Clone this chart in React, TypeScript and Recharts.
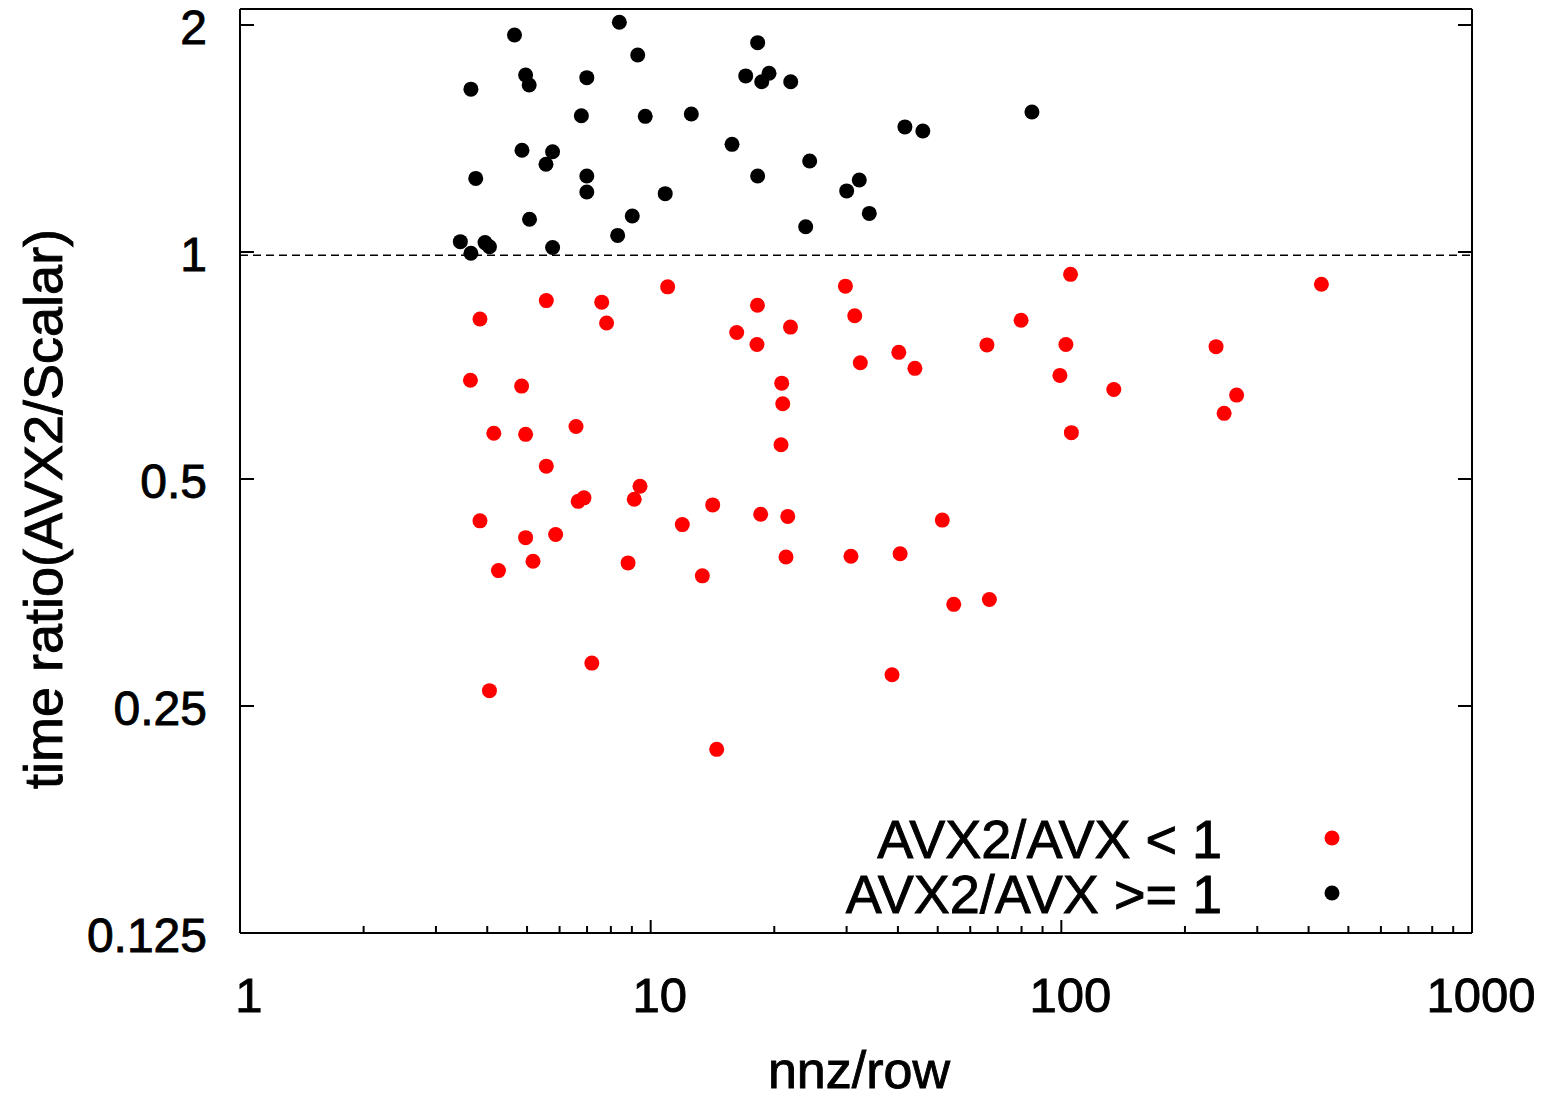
import { ScatterChart, Scatter, XAxis, YAxis, ReferenceLine, Legend, Label } from "recharts";

const FONT = "'Liberation Sans', Arial, Helvetica, sans-serif";

// axis ticks
const xMajorTicks = [1, 10, 100, 1000];
const xAllTicks = [
  1, 2, 3, 4, 5, 6, 7, 8, 9,
  10, 20, 30, 40, 50, 60, 70, 80, 90,
  100, 200, 300, 400, 500, 600, 700, 800, 900, 1000,
];
const yTicks = [0.125, 0.25, 0.5, 1, 2];
const yTickLabels = ["0.125", "0.25", "0.5", "1", "2"];
const thresholdY = 0.99;

// AVX2/AVX < 1 (red)
const belowNnz = [
  11.0, 29.8, 5.57, 7.6, 18.2, 3.84, 7.81, 31.4, 16.2, 21.9,
  18.15, 32.4, 40.2, 44.0, 3.64, 4.85, 20.85, 20.97, 4.15, 4.96,
  6.58, 20.77, 5.57, 9.42, 9.12, 6.88, 6.66, 14.16, 18.53, 21.57,
  3.84, 11.94, 4.96, 5.87, 5.17, 8.81, 21.36, 30.74, 40.5, 4.26,
  13.36, 7.19, 4.05, 38.7, 14.48, 105.3, 429.8, 79.8, 65.9, 102.6,
  238.1, 99.2, 134.2, 267.2, 249.1, 105.8, 51.3, 54.7, 66.8,
];
const belowRatio = [
  0.899, 0.901, 0.862, 0.858, 0.85, 0.815, 0.805, 0.823, 0.782, 0.795,
  0.754, 0.713, 0.736, 0.701, 0.676, 0.664, 0.67, 0.629, 0.575, 0.573,
  0.587, 0.555, 0.52, 0.489, 0.47, 0.472, 0.467, 0.462, 0.449, 0.446,
  0.44, 0.435, 0.418, 0.422, 0.389, 0.387, 0.394, 0.395, 0.398, 0.378,
  0.372, 0.285, 0.262, 0.275, 0.219, 0.934, 0.906, 0.812, 0.753, 0.754,
  0.749, 0.686, 0.657, 0.646, 0.611, 0.576, 0.441, 0.341, 0.346,
];

// AVX2/AVX >= 1 (black)
const aboveNnz = [
  4.66, 8.39, 9.3, 18.22, 4.96, 5.06, 3.65, 6.99, 17.04, 19.42,
  18.64, 21.93, 6.78, 9.7, 12.56, 41.6, 46.0, 84.8, 4.86, 5.77,
  5.56, 15.78, 24.39, 3.75, 6.99, 6.99, 18.22, 10.85, 30.01, 32.21,
  34.07, 5.07, 9.02, 23.85, 8.31, 3.44, 3.95, 4.05, 3.65, 5.77,
];
const aboveRatio = [
  1.94, 2.017, 1.825, 1.895, 1.717, 1.665, 1.644, 1.703, 1.712, 1.726,
  1.682, 1.682, 1.516, 1.513, 1.524, 1.465, 1.447, 1.533, 1.364, 1.358,
  1.307, 1.389, 1.32, 1.252, 1.261, 1.201, 1.261, 1.195, 1.205, 1.246,
  1.125, 1.105, 1.116, 1.08, 1.052, 1.032, 1.029, 1.016, 0.996, 1.014,
];

const belowData = belowNnz.map((x, i) => ({ x, y: belowRatio[i] }));
const aboveData = aboveNnz.map((x, i) => ({ x, y: aboveRatio[i] }));

const seriesColors: Record<string, string> = {
  "AVX2/AVX < 1": "#ff0000",
  "AVX2/AVX >= 1": "#000000",
};

// slightly heavier glyphs, closer to the gnuplot font
const textStyle = { fontFamily: FONT, fill: "#000", stroke: "#000", strokeWidth: 0.9 };

const dot = (color: string) => (p: any) =>
  <circle cx={p.cx} cy={p.cy} r={7.5} fill={color} />;

function BottomTick(props: any) {
  const { x, y, payload } = props;
  const major = xMajorTicks.includes(payload.value);
  return (
    <g>
      <line x1={x} y1={y} x2={x} y2={y - (major ? 13 : 7)} stroke="#000" strokeWidth={2} />
      {major && (
        <text x={x + 9} y={y + 79} textAnchor="middle" fontSize={49} {...textStyle}>
          {payload.value}
        </text>
      )}
    </g>
  );
}

function TopTick(props: any) {
  const { x, y, payload } = props;
  const major = xMajorTicks.includes(payload.value);
  return <line x1={x} y1={y} x2={x} y2={y + (major ? 13 : 7)} stroke="#000" strokeWidth={2} />;
}

function LeftTick(props: any) {
  const { x, y, payload } = props;
  const label = yTickLabels[yTicks.indexOf(payload.value)];
  return (
    <g>
      <line x1={x} y1={y} x2={x + 14} y2={y} stroke="#000" strokeWidth={2} />
      <text x={x - 33} y={y + 19} textAnchor="end" fontSize={48} {...textStyle}>
        {label}
      </text>
    </g>
  );
}

function RightTick(props: any) {
  const { x, y } = props;
  return <line x1={x} y1={y} x2={x - 14} y2={y} stroke="#000" strokeWidth={2} />;
}

function renderLegend(props: any) {
  const items = props.payload || [];
  return (
    <svg width={540} height={130}>
      {items.map((entry: any, i: number) => (
        <g key={entry.value}>
          <text x={392} y={58 + i * 55} textAnchor="end" fontSize={54} {...textStyle}>
            {entry.value}
          </text>
          <circle cx={502} cy={38 + i * 55} r={7.5} fill={seriesColors[entry.value] || entry.color} />
        </g>
      ))}
    </svg>
  );
}

const axisLine = { stroke: "#000", strokeWidth: 2 };

export default function App() {
  return (
    <div style={{ position: "absolute", left: 0, top: 0, background: "#fff" }}>
      <ScatterChart width={1553} height={1101} margin={{ top: 0, right: 0, bottom: 0, left: 0 }}>
        <XAxis
          dataKey="x"
          type="number"
          scale="log"
          domain={[1, 1000]}
          allowDataOverflow
          ticks={xAllTicks}
          interval={0}
          height={168}
          tickSize={0}
          tickMargin={0}
          tickLine={false}
          axisLine={axisLine}
          tick={<BottomTick />}
        >
          <Label
            content={() => (
              <text x={859} y={1088} textAnchor="middle" fontSize={52} {...textStyle}>
                nnz/row
              </text>
            )}
          />
        </XAxis>
        <XAxis
          xAxisId="top"
          orientation="top"
          type="number"
          scale="log"
          domain={[1, 1000]}
          allowDataOverflow
          ticks={xAllTicks}
          interval={0}
          height={9}
          tickSize={0}
          tickMargin={0}
          tickLine={false}
          axisLine={axisLine}
          tick={<TopTick />}
        />
        <YAxis
          dataKey="y"
          type="number"
          scale="log"
          domain={[0.125, 2.1]}
          allowDataOverflow
          ticks={yTicks}
          interval={0}
          width={240}
          tickSize={0}
          tickMargin={0}
          tickLine={false}
          axisLine={axisLine}
          tick={<LeftTick />}
        >
          <Label
            content={() => (
              <text
                transform="translate(62,509) rotate(-90)"
                textAnchor="middle"
                fontSize={54}
                {...textStyle}
              >
                time ratio(AVX2/Scalar)
              </text>
            )}
          />
        </YAxis>
        <YAxis
          yAxisId="right"
          orientation="right"
          type="number"
          scale="log"
          domain={[0.125, 2.1]}
          allowDataOverflow
          ticks={yTicks}
          interval={0}
          width={81}
          tickSize={0}
          tickMargin={0}
          tickLine={false}
          axisLine={axisLine}
          tick={<RightTick />}
        />
        <ReferenceLine y={thresholdY} stroke="#000" strokeWidth={1.5} strokeDasharray="8 5" />
        <Legend
          layout="horizontal"
          verticalAlign="middle"
          align="center"
          wrapperStyle={{ left: 830, top: 800, width: 540, height: 130 }}
          content={renderLegend}
        />
        <Scatter
          name="AVX2/AVX < 1"
          data={belowData}
          fill="#ff0000"
          shape={dot("#ff0000")}
          isAnimationActive={false}
        />
        <Scatter
          name="AVX2/AVX >= 1"
          data={aboveData}
          fill="#000000"
          shape={dot("#000000")}
          isAnimationActive={false}
        />
      </ScatterChart>
    </div>
  );
}
